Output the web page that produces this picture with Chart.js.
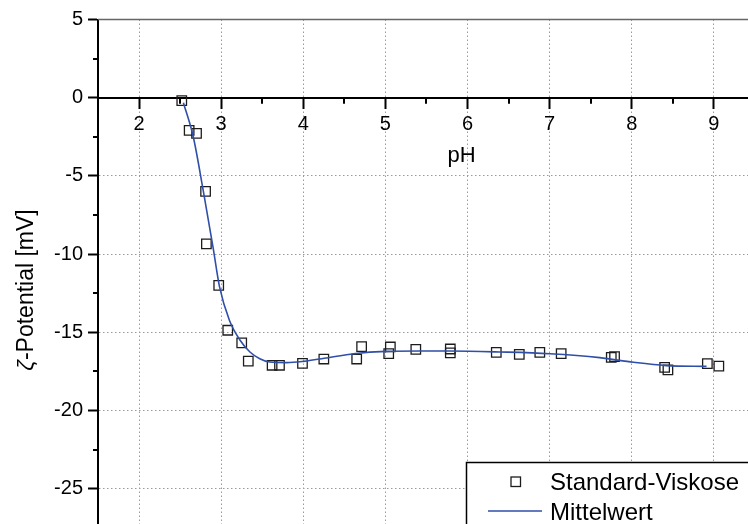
<!DOCTYPE html>
<html>
<head>
<meta charset="utf-8">
<script src="https://cdn.jsdelivr.net/npm/chart.js@4.4.0/dist/chart.umd.min.js"></script>
<style>
  html, body { margin: 0; padding: 0; background: #fff; }
  #box { width: 748px; height: 524px; position: relative; }
</style>
</head>
<body>
<div id="box"><canvas id="zetaChart"></canvas></div>
<script>
// Messpunkte Standard-Viskose (pH / Zeta-Potential in mV)
const phWerte = [2.52, 2.61, 2.70, 2.81, 2.82, 2.97, 3.08, 3.25, 3.33, 3.62,
                 3.71, 3.99, 4.25, 4.65, 4.71, 5.04, 5.06, 5.37, 5.79, 5.79,
                 6.35, 6.63, 6.88, 7.14, 7.75, 7.79, 8.40, 8.44, 8.92, 9.06];
const zetaWerte = [-0.19, -2.09, -2.28, -5.99, -9.35, -12.0, -14.87, -15.68, -16.84, -17.11,
                   -17.11, -16.99, -16.71, -16.71, -15.92, -16.37, -15.94, -16.09, -16.07, -16.32,
                   -16.28, -16.41, -16.28, -16.37, -16.60, -16.56, -17.24, -17.41, -17.00, -17.16];

// Mittelwert-Kurve
const phMittel = [2.54, 2.66, 2.78, 2.90, 2.98, 3.10, 3.23, 3.35, 3.47, 3.59,
                  3.80, 4.00, 4.28, 4.61, 5.01, 5.42, 5.78, 6.39, 7.00, 7.61,
                  8.02, 8.42, 8.91];
const zetaMittel = [-0.32, -2.5, -5.9, -9.54, -12.1, -14.23, -15.51, -16.26, -16.69, -16.9,
                    -16.94, -16.86, -16.65, -16.37, -16.22, -16.2, -16.2, -16.26, -16.37, -16.62,
                    -16.92, -17.13, -17.18];

// Achsenstriche
const xHauptTicks = [2, 3, 4, 5, 6, 7, 8, 9];
const xNebenTicks = [2.5, 3.5, 4.5, 5.5, 6.5, 7.5, 8.5];
const yHauptTicks = [5, 0, -5, -10, -15, -20, -25];
const yNebenTicks = [2.5, -2.5, -7.5, -12.5, -17.5, -22.5];

const serienNamen = ["Standard-Viskose", "Mittelwert"];
const xTitel = "pH";
const yTitelSymbol = "ζ";
const yTitelRest = "-Potential [mV]";

// Achsenbereich (Bild ist rechts und unten abgeschnitten)
const xMin = 1.5, xMax = 9.415;
const yMin = -27.26, yMax = 5;

const schrift = "'Liberation Sans', Arial, sans-serif";
const linienFarbe = "#2f4fa8";
const punktFarbe = "#1c1c1c";

function istHaupt(liste, v) {
    return liste.some(h => Math.abs(h - v) < 1e-6);
}

// zeichnet Nebenstriche, Rahmen, Achsentitel und Legende
const extrasPlugin = {
    id: "extras",
    afterDraw(chart) {
        const ctx = chart.ctx;
        const xs = chart.scales.x;
        const ys = chart.scales.y;
        const area = chart.chartArea;
        const y0 = ys.getPixelForValue(0);

        ctx.save();

        // obere Rahmenlinie
        ctx.strokeStyle = "#666";
        ctx.lineWidth = 1.5;
        ctx.beginPath();
        ctx.moveTo(area.left, area.top);
        ctx.lineTo(area.right, area.top);
        ctx.stroke();

        // kleine Striche zwischen den Hauptstrichen
        ctx.strokeStyle = "#000";
        ctx.lineWidth = 2;
        ctx.beginPath();
        xNebenTicks.forEach(v => {
            const px = Math.round(xs.getPixelForValue(v));
            ctx.moveTo(px, y0);
            ctx.lineTo(px, y0 + 6);
        });
        yNebenTicks.forEach(v => {
            const py = Math.round(ys.getPixelForValue(v));
            ctx.moveTo(area.left, py);
            ctx.lineTo(area.left - 5, py);
        });
        ctx.stroke();

        // x-Titel
        ctx.fillStyle = "#000";
        ctx.font = "22px " + schrift;
        ctx.textAlign = "center";
        ctx.textBaseline = "alphabetic";
        ctx.fillText(xTitel, 461.5, 162);

        // y-Titel, gedreht
        ctx.save();
        ctx.translate(33, 290);
        ctx.rotate(-Math.PI / 2);
        ctx.font = "italic 23px " + schrift;
        const wSym = ctx.measureText(yTitelSymbol).width;
        ctx.font = "23px " + schrift;
        const wRest = ctx.measureText(yTitelRest).width;
        const start = -(wSym + wRest) / 2;
        ctx.textAlign = "left";
        ctx.font = "italic 23px " + schrift;
        ctx.fillText(yTitelSymbol, start, 0);
        ctx.font = "23px " + schrift;
        ctx.fillText(yTitelRest, start + wSym, 0);
        ctx.restore();

        // Legende unten rechts
        ctx.fillStyle = "#fff";
        ctx.fillRect(466.5, 462.5, 300, 80);
        ctx.strokeStyle = "#000";
        ctx.lineWidth = 1.5;
        ctx.strokeRect(466.5, 462.5, 300, 80);

        ctx.strokeStyle = punktFarbe;
        ctx.lineWidth = 1.3;
        ctx.strokeRect(511, 477, 9.5, 9.5);

        ctx.strokeStyle = linienFarbe;
        ctx.lineWidth = 1.6;
        ctx.beginPath();
        ctx.moveTo(488, 511);
        ctx.lineTo(542, 511);
        ctx.stroke();

        ctx.fillStyle = "#000";
        ctx.font = "24px " + schrift;
        ctx.textAlign = "left";
        ctx.fillText(chart.data.datasets[0].label, 550, 490);
        ctx.fillText(chart.data.datasets[1].label, 550, 520);

        ctx.restore();
    }
};

function generateChart() {
    const ctx = document.getElementById("zetaChart").getContext("2d");

    const messPunkte = phWerte.map((p, i) => ({ x: p, y: zetaWerte[i] }));
    const mittelPunkte = phMittel.map((p, i) => ({ x: p, y: zetaMittel[i] }));

    new Chart(ctx, {
        type: "scatter",
        data: {
            datasets: [
                {
                    label: serienNamen[0],
                    data: messPunkte,
                    showLine: false,
                    pointStyle: "rect",
                    pointRadius: 6.7,
                    pointBorderWidth: 1.3,
                    borderColor: punktFarbe,
                    backgroundColor: "rgba(0,0,0,0)",
                    order: 2
                },
                {
                    label: serienNamen[1],
                    data: mittelPunkte,
                    showLine: true,
                    pointRadius: 0,
                    borderColor: linienFarbe,
                    borderWidth: 1.6,
                    cubicInterpolationMode: "monotone",
                    order: 1
                }
            ]
        },
        options: {
            responsive: true,
            maintainAspectRatio: false,
            animation: false,
            layout: { autoPadding: false, padding: { top: 19.5, left: 0, right: 0, bottom: 0 } },
            plugins: {
                legend: { display: false },
                tooltip: { enabled: false }
            },
            scales: {
                x: {
                    type: "linear",
                    position: { y: 0 },
                    min: xMin,
                    max: xMax,
                    // nur die Hauptstriche aus der Liste
                    afterBuildTicks: s => { s.ticks = xHauptTicks.map(v => ({ value: v })); },
                    afterFit: s => { s.paddingLeft = 0; s.paddingRight = 0; },
                    ticks: {
                        autoSkip: false,
                        maxRotation: 0,
                        padding: 5,
                        color: "#000",
                        font: { family: schrift, size: 20 },
                        callback: v => String(v)
                    },
                    grid: {
                        color: "#9a9a9a",
                        lineWidth: 1,
                        tickLength: 10,
                        tickWidth: 2,
                        tickColor: "#000"
                    },
                    border: { display: true, color: "#000", width: 2, dash: [1.5, 2.5] }
                },
                y: {
                    type: "linear",
                    position: "left",
                    min: yMin,
                    max: yMax,
                    afterBuildTicks: s => { s.ticks = yHauptTicks.slice().reverse().map(v => ({ value: v })); },
                    afterFit: s => { s.width = 98; s.paddingTop = 0; s.paddingBottom = 0; },
                    ticks: {
                        autoSkip: false,
                        padding: 5,
                        color: "#000",
                        font: { family: schrift, size: 20 },
                        callback: v => String(v)
                    },
                    grid: {
                        color: c => (c.tick && c.tick.value < 0) ? "#9a9a9a" : "rgba(0,0,0,0)",
                        lineWidth: 1,
                        tickLength: 10,
                        tickWidth: 2,
                        tickColor: "#000"
                    },
                    border: { display: true, color: "#000", width: 2, dash: [1.5, 2.5] }
                }
            }
        },
        plugins: [extrasPlugin]
    });
}

generateChart();
</script>
</body>
</html>
